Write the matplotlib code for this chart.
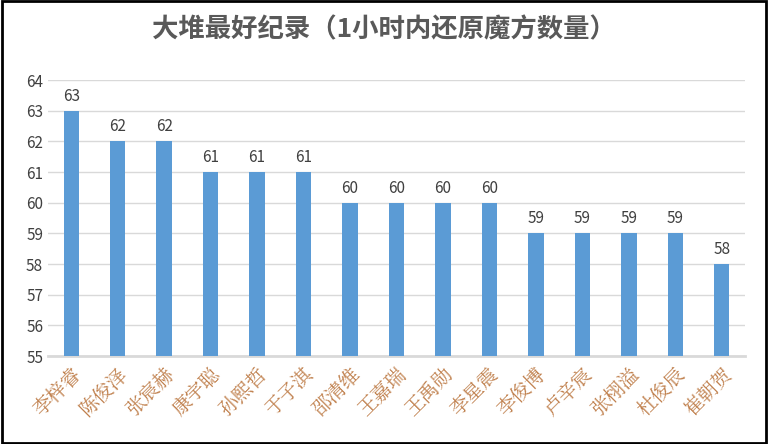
import matplotlib
matplotlib.use('Agg')
import matplotlib.pyplot as plt

names = ['李梓睿','陈俊泽','张宸赫','康宇聪','孙熙哲','于子淇','邵清维','王嘉瑞','王禹勋','李星震','李俊博','卢辛宸','张栩溢','杜俊辰','崔朝贺']
values = [63,62,62,61,61,61,60,60,60,60,59,59,59,59,58]
yticks = list(range(55,65))

plt.rcParams['font.family'] = ['Noto Sans CJK SC', 'DejaVu Sans']
fig = plt.figure(figsize=(7.68,4.44), dpi=100)
fig.patches.append(plt.Rectangle((0.002,0.003),0.996,0.994, transform=fig.transFigure, fill=False, edgecolor='black', linewidth=2))
ax = fig.add_axes([48/768, 1-356/444, (745-48)/768, (356-80)/444])
x = range(len(names))
ax.bar(x, [v-55 for v in values], bottom=55, width=0.33, color='#5B9BD5', zorder=3)
for i, v in enumerate(values):
    ax.text(i, v+0.2, str(v), ha='center', va='bottom', fontsize=11, color='#404040')
ax.set_ylim(55,64)
ax.set_xlim(-0.5, len(names)-0.5)
ax.set_yticks(yticks)
ax.tick_params(axis='y', length=0, labelsize=11, labelcolor='#404040')
ax.grid(axis='y', color='#D9D9D9', linewidth=1, zorder=0)
ax.set_xticks(list(x))
ax.set_xticklabels(names, rotation=45, ha='right', rotation_mode='anchor', fontsize=14, color='#C0804D', family=['Noto Serif CJK SC','Noto Sans CJK SC'])
ax.tick_params(axis='x', length=0, pad=6)
for s in ['top','right','left']:
    ax.spines[s].set_visible(False)
ax.spines['bottom'].set_color('#D9D9D9')
ax.spines['bottom'].set_linewidth(2)
fig.text(0.5, 1-30/444, '大堆最好纪录（1小时内还原魔方数量）', ha='center', va='center', fontsize=19, fontweight='bold', color='#595959')
fig.savefig('out.png', dpi=100)
